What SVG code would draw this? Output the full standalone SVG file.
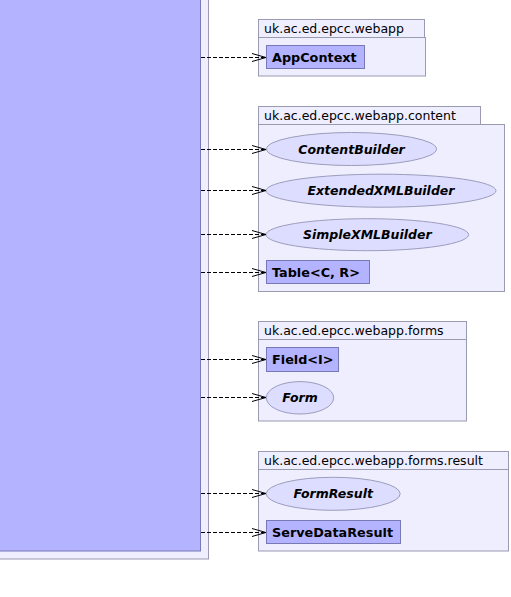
<svg xmlns="http://www.w3.org/2000/svg" width="511" height="597" viewBox="0 0 511 597">
<style>
.pkg{fill:#eeeeff;stroke:#9a9ab0;stroke-width:1}
.cls{fill:#b3b3ff;stroke:#7878b4;stroke-width:1}
.ifc{fill:#ddddff;stroke:#9c9cbc;stroke-width:1}
.pl{font-family:"DejaVu Sans",sans-serif;font-size:12.5px;fill:#000}
.cl{font-family:"DejaVu Sans",sans-serif;font-size:12.8px;font-weight:bold;fill:#000}
.il{font-family:"DejaVu Sans",sans-serif;font-size:12.5px;font-weight:bold;font-style:italic;fill:#000;text-anchor:middle}
.dep{fill:none;stroke:#000;stroke-width:1;stroke-dasharray:4,2}
.hd{fill:none;stroke:#000;stroke-width:1}
</style>
<rect width="511" height="597" fill="#fff"/>
<g id="source">
<rect class="pkg" x="-10" y="-10" width="218.5" height="569"/>
<rect class="cls" x="-10" y="-10" width="210.5" height="561"/>
</g>
<g id="pkg-webapp">
<rect class="pkg" x="258.5" y="19.5" width="166" height="18"/>
<rect class="pkg" x="258.5" y="37.5" width="167" height="38.5"/>
<text class="pl" x="264" y="33">uk.ac.ed.epcc.webapp</text>
</g>
<g id="AppContext">
<rect class="cls" x="266.5" y="45.5" width="98" height="23"/>
<text class="cl" x="272" y="62">AppContext</text>
</g>
<g id="pkg-content">
<rect class="pkg" x="258.5" y="106.5" width="222" height="18"/>
<rect class="pkg" x="258.5" y="124.5" width="246" height="167"/>
<text class="pl" x="264" y="120">uk.ac.ed.epcc.webapp.content</text>
</g>
<g id="ContentBuilder">
<ellipse class="ifc" cx="351.5" cy="149" rx="85" ry="16.5"/>
<text class="il" x="351.5" y="153.5">ContentBuilder</text>
</g>
<g id="ExtendedXMLBuilder">
<ellipse class="ifc" cx="381" cy="190.7" rx="115" ry="16.5"/>
<text class="il" x="381" y="195.2">ExtendedXMLBuilder</text>
</g>
<g id="SimpleXMLBuilder">
<ellipse class="ifc" cx="367.3" cy="234.7" rx="101.3" ry="16"/>
<text class="il" x="367.3" y="239.2">SimpleXMLBuilder</text>
</g>
<g id="Table">
<rect class="cls" x="266.5" y="260.5" width="103" height="23"/>
<text class="cl" x="272" y="277">Table&lt;C, R&gt;</text>
</g>
<g id="pkg-forms">
<rect class="pkg" x="258.5" y="321.5" width="208" height="99.5"/>
<line x1="258.5" y1="339.5" x2="466.5" y2="339.5" stroke="#9a9ab0"/>
<text class="pl" x="264" y="335">uk.ac.ed.epcc.webapp.forms</text>
</g>
<g id="Field">
<rect class="cls" x="266.5" y="347.5" width="72" height="24"/>
<text class="cl" x="272" y="364">Field&lt;I&gt;</text>
</g>
<g id="Form">
<ellipse class="ifc" cx="300" cy="397.8" rx="33.7" ry="16.2"/>
<text class="il" x="300" y="402.3">Form</text>
</g>
<g id="pkg-result">
<rect class="pkg" x="258.5" y="451.5" width="250" height="99.5"/>
<line x1="258.5" y1="469.5" x2="508.5" y2="469.5" stroke="#9a9ab0"/>
<text class="pl" x="264" y="465">uk.ac.ed.epcc.webapp.forms.result</text>
</g>
<g id="FormResult">
<ellipse class="ifc" cx="333.2" cy="493.8" rx="67" ry="16.5"/>
<text class="il" x="333.2" y="498.3">FormResult</text>
</g>
<g id="ServeDataResult">
<rect class="cls" x="266.5" y="520.5" width="134" height="23"/>
<text class="cl" x="272" y="537">ServeDataResult</text>
</g>
<g id="connectors">
<path class="dep" d="M201,57.5H265 M201,149.5H265 M201,190.5H265 M201,234.5H265 M201,272.5H265 M201,359.5H265 M201,397.5H265 M201,493.5H265 M201,532.5H265"/>
<path class="hd" d="M252,53.5L266,57.5L252,61.5 M252,145.5L266,149.5L252,153.5 M252,186.5L266,190.5L252,194.5 M252,230.5L266,234.5L252,238.5 M252,268.5L266,272.5L252,276.5 M252,355.5L266,359.5L252,363.5 M252,393.5L266,397.5L252,401.5 M252,489.5L266,493.5L252,497.5 M252,528.5L266,532.5L252,536.5"/>
</g>
</svg>
